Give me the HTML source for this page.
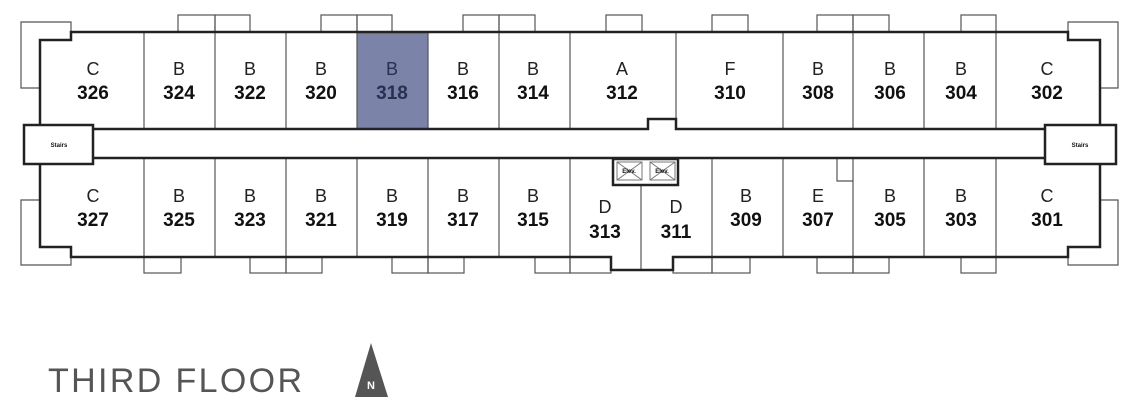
<!DOCTYPE html>
<html><head><meta charset="utf-8"><style>
html,body{margin:0;padding:0;background:#fff;}
svg{display:block;}
.l{font-family:"Liberation Sans",sans-serif;font-size:18px;fill:#222;text-anchor:middle;}
.n{font-family:"Liberation Sans",sans-serif;font-size:19px;font-weight:bold;fill:#111;text-anchor:middle;}
.s{font-family:"Liberation Sans",sans-serif;font-size:6px;font-weight:bold;fill:#111;text-anchor:middle;}
</style></head><body>
<svg width="1134" height="416" viewBox="0 0 1134 416" xmlns="http://www.w3.org/2000/svg">
<g fill="none" stroke="#555" stroke-width="1.2">
<!-- top balconies -->
<rect x="178" y="15" width="37" height="17"/><rect x="215" y="15" width="35" height="17"/>
<rect x="321" y="15" width="36" height="17"/><rect x="357" y="15" width="35" height="17"/>
<rect x="463" y="15" width="36" height="17"/><rect x="499" y="15" width="36" height="17"/>
<rect x="606" y="15" width="36" height="17"/>
<rect x="712" y="15" width="36" height="17"/>
<rect x="817" y="15" width="36" height="17"/><rect x="853" y="15" width="36" height="17"/>
<rect x="961" y="15" width="35" height="17"/>
<!-- bottom balconies -->
<rect x="144" y="257" width="37" height="16"/>
<rect x="250" y="257" width="36" height="16"/><rect x="286" y="257" width="36" height="16"/>
<rect x="392" y="257" width="36" height="16"/><rect x="428" y="257" width="36" height="16"/>
<rect x="535" y="257" width="35" height="16"/><rect x="570" y="257" width="41" height="16"/>
<rect x="673" y="257" width="39" height="16"/><rect x="712" y="257" width="38" height="16"/>
<rect x="817" y="257" width="36" height="16"/><rect x="853" y="257" width="36" height="16"/>
<rect x="961" y="257" width="35" height="16"/>
<!-- corner balconies -->
<polyline points="71,32 71,22 21,22 21,88 40,88"/>
<polyline points="1068,32 1068,22 1118,22 1118,88 1100,88"/>
<polyline points="40,200 21,200 21,265 71,265 71,257"/>
<polyline points="1100,200 1118,200 1118,265 1068,265 1068,257"/>
</g>
<!-- highlight -->
<rect x="357" y="32" width="71" height="97" fill="#7b83a8"/>
<g stroke="#555" stroke-width="1.2">
<line x1="144" y1="32" x2="144" y2="129"/><line x1="215" y1="32" x2="215" y2="129"/>
<line x1="286" y1="32" x2="286" y2="129"/><line x1="357" y1="32" x2="357" y2="129"/>
<line x1="428" y1="32" x2="428" y2="129"/><line x1="499" y1="32" x2="499" y2="129"/>
<line x1="570" y1="32" x2="570" y2="129"/><line x1="676" y1="32" x2="676" y2="129"/>
<line x1="783" y1="32" x2="783" y2="129"/><line x1="853" y1="32" x2="853" y2="129"/>
<line x1="924" y1="32" x2="924" y2="129"/><line x1="996" y1="32" x2="996" y2="129"/>
<line x1="144" y1="158" x2="144" y2="257"/><line x1="215" y1="158" x2="215" y2="257"/>
<line x1="286" y1="158" x2="286" y2="257"/><line x1="357" y1="158" x2="357" y2="257"/>
<line x1="428" y1="158" x2="428" y2="257"/><line x1="499" y1="158" x2="499" y2="257"/>
<line x1="570" y1="158" x2="570" y2="257"/><line x1="641" y1="185" x2="641" y2="270"/>
<line x1="712" y1="158" x2="712" y2="257"/><line x1="783" y1="158" x2="783" y2="257"/>
<line x1="853" y1="158" x2="853" y2="257"/><line x1="924" y1="158" x2="924" y2="257"/>
<line x1="996" y1="158" x2="996" y2="257"/>
<polyline fill="none" points="837,158 837,181 853,181"/>
</g>
<g fill="none" stroke="#222" stroke-width="2.5">
<!-- top outline -->
<polyline points="40,125 40,40 71,40 71,32 1068,32 1068,40 1100,40 1100,125"/>
<polyline points="93,129 648,129 648,119 676,119 676,129 1045,129"/>
<polyline points="93,158 1045,158"/>
<polyline points="40,164 40,247 71,247 71,257 611,257 611,270 673,270 673,257 1068,257 1068,247 1100,247 1100,164"/>
<rect x="24" y="125" width="69" height="39" fill="#fff"/>
<rect x="1045" y="125" width="71" height="39" fill="#fff"/>
<rect x="613" y="159" width="65" height="26" fill="#fff"/>
</g>
<g fill="none" stroke="#777" stroke-width="1">
<rect x="617" y="162" width="25" height="18"/><line x1="617" y1="162" x2="642" y2="180"/><line x1="642" y1="162" x2="617" y2="180"/>
<rect x="650" y="162" width="25" height="18"/><line x1="650" y1="162" x2="675" y2="180"/><line x1="675" y1="162" x2="650" y2="180"/>
</g>
<text class="s" x="629" y="173">Elev.</text><text class="s" x="662" y="173">Elev.</text>
<text class="s" x="59" y="147">Stairs</text><text class="s" x="1080" y="147">Stairs</text>
<!-- top labels -->
<g>
<text class="l" x="93" y="75">C</text><text class="n" x="93" y="99">326</text>
<text class="l" x="179" y="75">B</text><text class="n" x="179" y="99">324</text>
<text class="l" x="250" y="75">B</text><text class="n" x="250" y="99">322</text>
<text class="l" x="321" y="75">B</text><text class="n" x="321" y="99">320</text>
<text class="l" x="392" y="75" style="fill:#2a3050">B</text><text class="n" x="392" y="99" style="fill:#2a3050">318</text>
<text class="l" x="463" y="75">B</text><text class="n" x="463" y="99">316</text>
<text class="l" x="533" y="75">B</text><text class="n" x="533" y="99">314</text>
<text class="l" x="622" y="75">A</text><text class="n" x="622" y="99">312</text>
<text class="l" x="730" y="75">F</text><text class="n" x="730" y="99">310</text>
<text class="l" x="818" y="75">B</text><text class="n" x="818" y="99">308</text>
<text class="l" x="890" y="75">B</text><text class="n" x="890" y="99">306</text>
<text class="l" x="961" y="75">B</text><text class="n" x="961" y="99">304</text>
<text class="l" x="1047" y="75">C</text><text class="n" x="1047" y="99">302</text>
<!-- bottom -->
<text class="l" x="93" y="202">C</text><text class="n" x="93" y="226">327</text>
<text class="l" x="179" y="202">B</text><text class="n" x="179" y="226">325</text>
<text class="l" x="250" y="202">B</text><text class="n" x="250" y="226">323</text>
<text class="l" x="321" y="202">B</text><text class="n" x="321" y="226">321</text>
<text class="l" x="392" y="202">B</text><text class="n" x="392" y="226">319</text>
<text class="l" x="463" y="202">B</text><text class="n" x="463" y="226">317</text>
<text class="l" x="533" y="202">B</text><text class="n" x="533" y="226">315</text>
<text class="l" x="605" y="213">D</text><text class="n" x="605" y="238">313</text>
<text class="l" x="676" y="213">D</text><text class="n" x="676" y="238">311</text>
<text class="l" x="746" y="202">B</text><text class="n" x="746" y="226">309</text>
<text class="l" x="818" y="202">E</text><text class="n" x="818" y="226">307</text>
<text class="l" x="890" y="202">B</text><text class="n" x="890" y="226">305</text>
<text class="l" x="961" y="202">B</text><text class="n" x="961" y="226">303</text>
<text class="l" x="1047" y="202">C</text><text class="n" x="1047" y="226">301</text>
</g>
<text x="48" y="392" font-family="Liberation Sans, sans-serif" font-size="34" fill="#555" textLength="254" lengthAdjust="spacing">THIRD FLOOR</text>
<polygon points="371,343 355,397 388,397" fill="#555"/>
<text x="371" y="389" font-family="Liberation Sans, sans-serif" font-size="11" font-weight="bold" fill="#fff" text-anchor="middle">N</text>
</svg>
</body></html>
